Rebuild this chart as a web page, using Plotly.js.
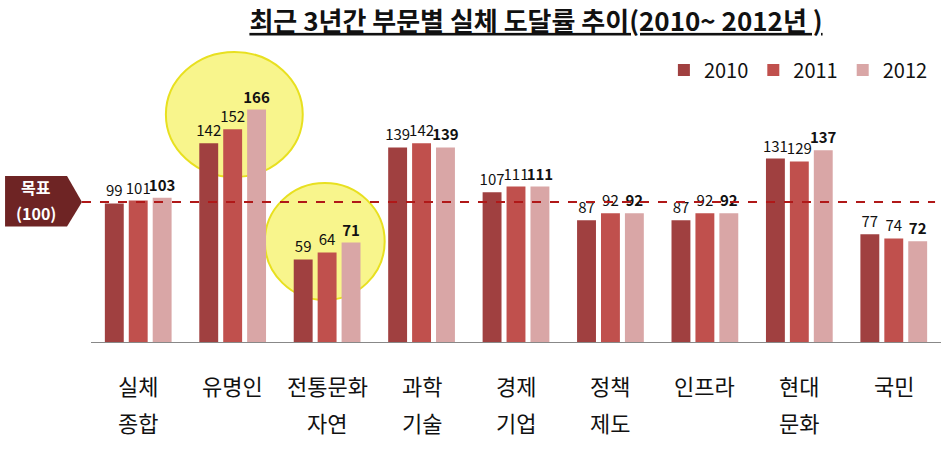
<!DOCTYPE html>
<html><head><meta charset="utf-8">
<script src="https://cdn.plot.ly/plotly-3.0.1.min.js"></script>
<style>body{margin:0;background:#fff}#chart{width:947px;height:454px}</style>
</head><body><div id="chart"></div>
<script>
const categories = ["실체<br>종합","유명인","전통문화<br>자연","과학<br>기술","경제<br>기업","정책<br>제도","인프라","현대<br>문화","국민"];
const seriesNames = ["2010","2011","2012"];
const v2010 = [99,142,59,139,107,87,87,131,77];
const v2011 = [101,152,64,142,111,92,92,129,74];
const v2012 = [103,166,71,139,111,92,92,137,72];
const targetValue = 100;
const targetLabel = ["목표","(100)"];
const colors = ["#A04040","#C0504D","#D9A6A6"];

const FONT = "'Noto Sans CJK KR','Malgun Gothic',sans-serif";
const idx = categories.map((c,i)=>i);
const vals = [v2010,v2011,v2012];
const traces = vals.map((v,k)=>({
  type:'bar', name:seriesNames[k], x:idx, y:v,
  marker:{color:colors[k]},
  text:v.map(n=>k===2?'<b>'+n+'</b>':String(n)),
  texttemplate:'%{text}',
  textposition:'outside', cliponaxis:false, constraintext:'none',
  textfont:{family:FONT,size:15,color:'#111'},
  hoverinfo:'skip'
}));

const annotations = [];
categories.forEach((c,i)=>{
  c.split('<br>').forEach((line,j)=>{
    annotations.push({x:i,xref:'x',y:-(43+37*j)/280,yref:'paper',
      text:line,showarrow:false,font:{family:FONT,size:22,color:'#111'},xanchor:'center',yanchor:'middle'});
  });
});
targetLabel.forEach((t,j)=>{
  annotations.push({x:-0.0645,xref:'paper',y:(j===0?0.11:-0.08)*targetValue+targetValue,yref:'y',text:'<b>'+t+'</b>',showarrow:false,
    font:{family:FONT,size:16,color:'#fff'},xanchor:'center',yanchor:'middle'});
});

const shapes = [
  {type:'circle',xref:'paper',yref:'paper',x0:0.0881,x1:0.2491,y0:0.589,y1:1.036,layer:'below',
   fillcolor:'#F8F58C',line:{color:'#E8E020',width:2}},
  {type:'circle',xref:'paper',yref:'paper',x0:0.2045,x1:0.3455,y0:0.15,y1:0.568,layer:'below',
   fillcolor:'#F8F58C',line:{color:'#E8E020',width:2}},
  {type:'path',xref:'paper',yref:'y',path:'M -0.1011 82.5 L -0.0282 82.5 L -0.0106 '+targetValue+' L -0.0282 118.5 L -0.1011 118.5 Z',
   fillcolor:'#6E2424',line:{width:0},layer:'above'},
  {type:'line',xref:'paper',yref:'y',x0:-0.0106,x1:0.993,y0:targetValue,y1:targetValue,
   line:{color:'#B01818',width:2,dash:'dash'},layer:'above'}
];

const layout = {
  width:947,height:454,
  margin:{l:91,r:6,t:62,b:112},
  paper_bgcolor:'#fff',plot_bgcolor:'rgba(0,0,0,0)',
  font:{family:FONT},
  title:{text:'<b><u>최근 3년간 부문별 실체 도달률 추이(2010~ 2012년 )</u></b>',
    font:{family:FONT,size:26,color:'#111'},xref:'container',x:0.566,xanchor:'center',yref:'container',y:0.952,yanchor:'middle'},
  barmode:'group',bargap:0.24,bargroupgap:0.21,
  xaxis:{range:[-0.5,8.5],showticklabels:false,ticks:'',showgrid:false,zeroline:false,
    showline:true,linecolor:'#888',linewidth:1,fixedrange:true},
  yaxis:{range:[0,200],visible:false,showgrid:false,zeroline:false},
  legend:{orientation:'h',x:0.674,xanchor:'left',y:0.971,yanchor:'middle',
    font:{family:FONT,size:20,color:'#111'},itemwidth:30,tracegroupgap:0,bgcolor:'rgba(0,0,0,0)'},
  showlegend:true,
  shapes:shapes,annotations:annotations
};
Plotly.newPlot('chart',traces,layout,{displayModeBar:false,staticPlot:true});
</script></body></html>
